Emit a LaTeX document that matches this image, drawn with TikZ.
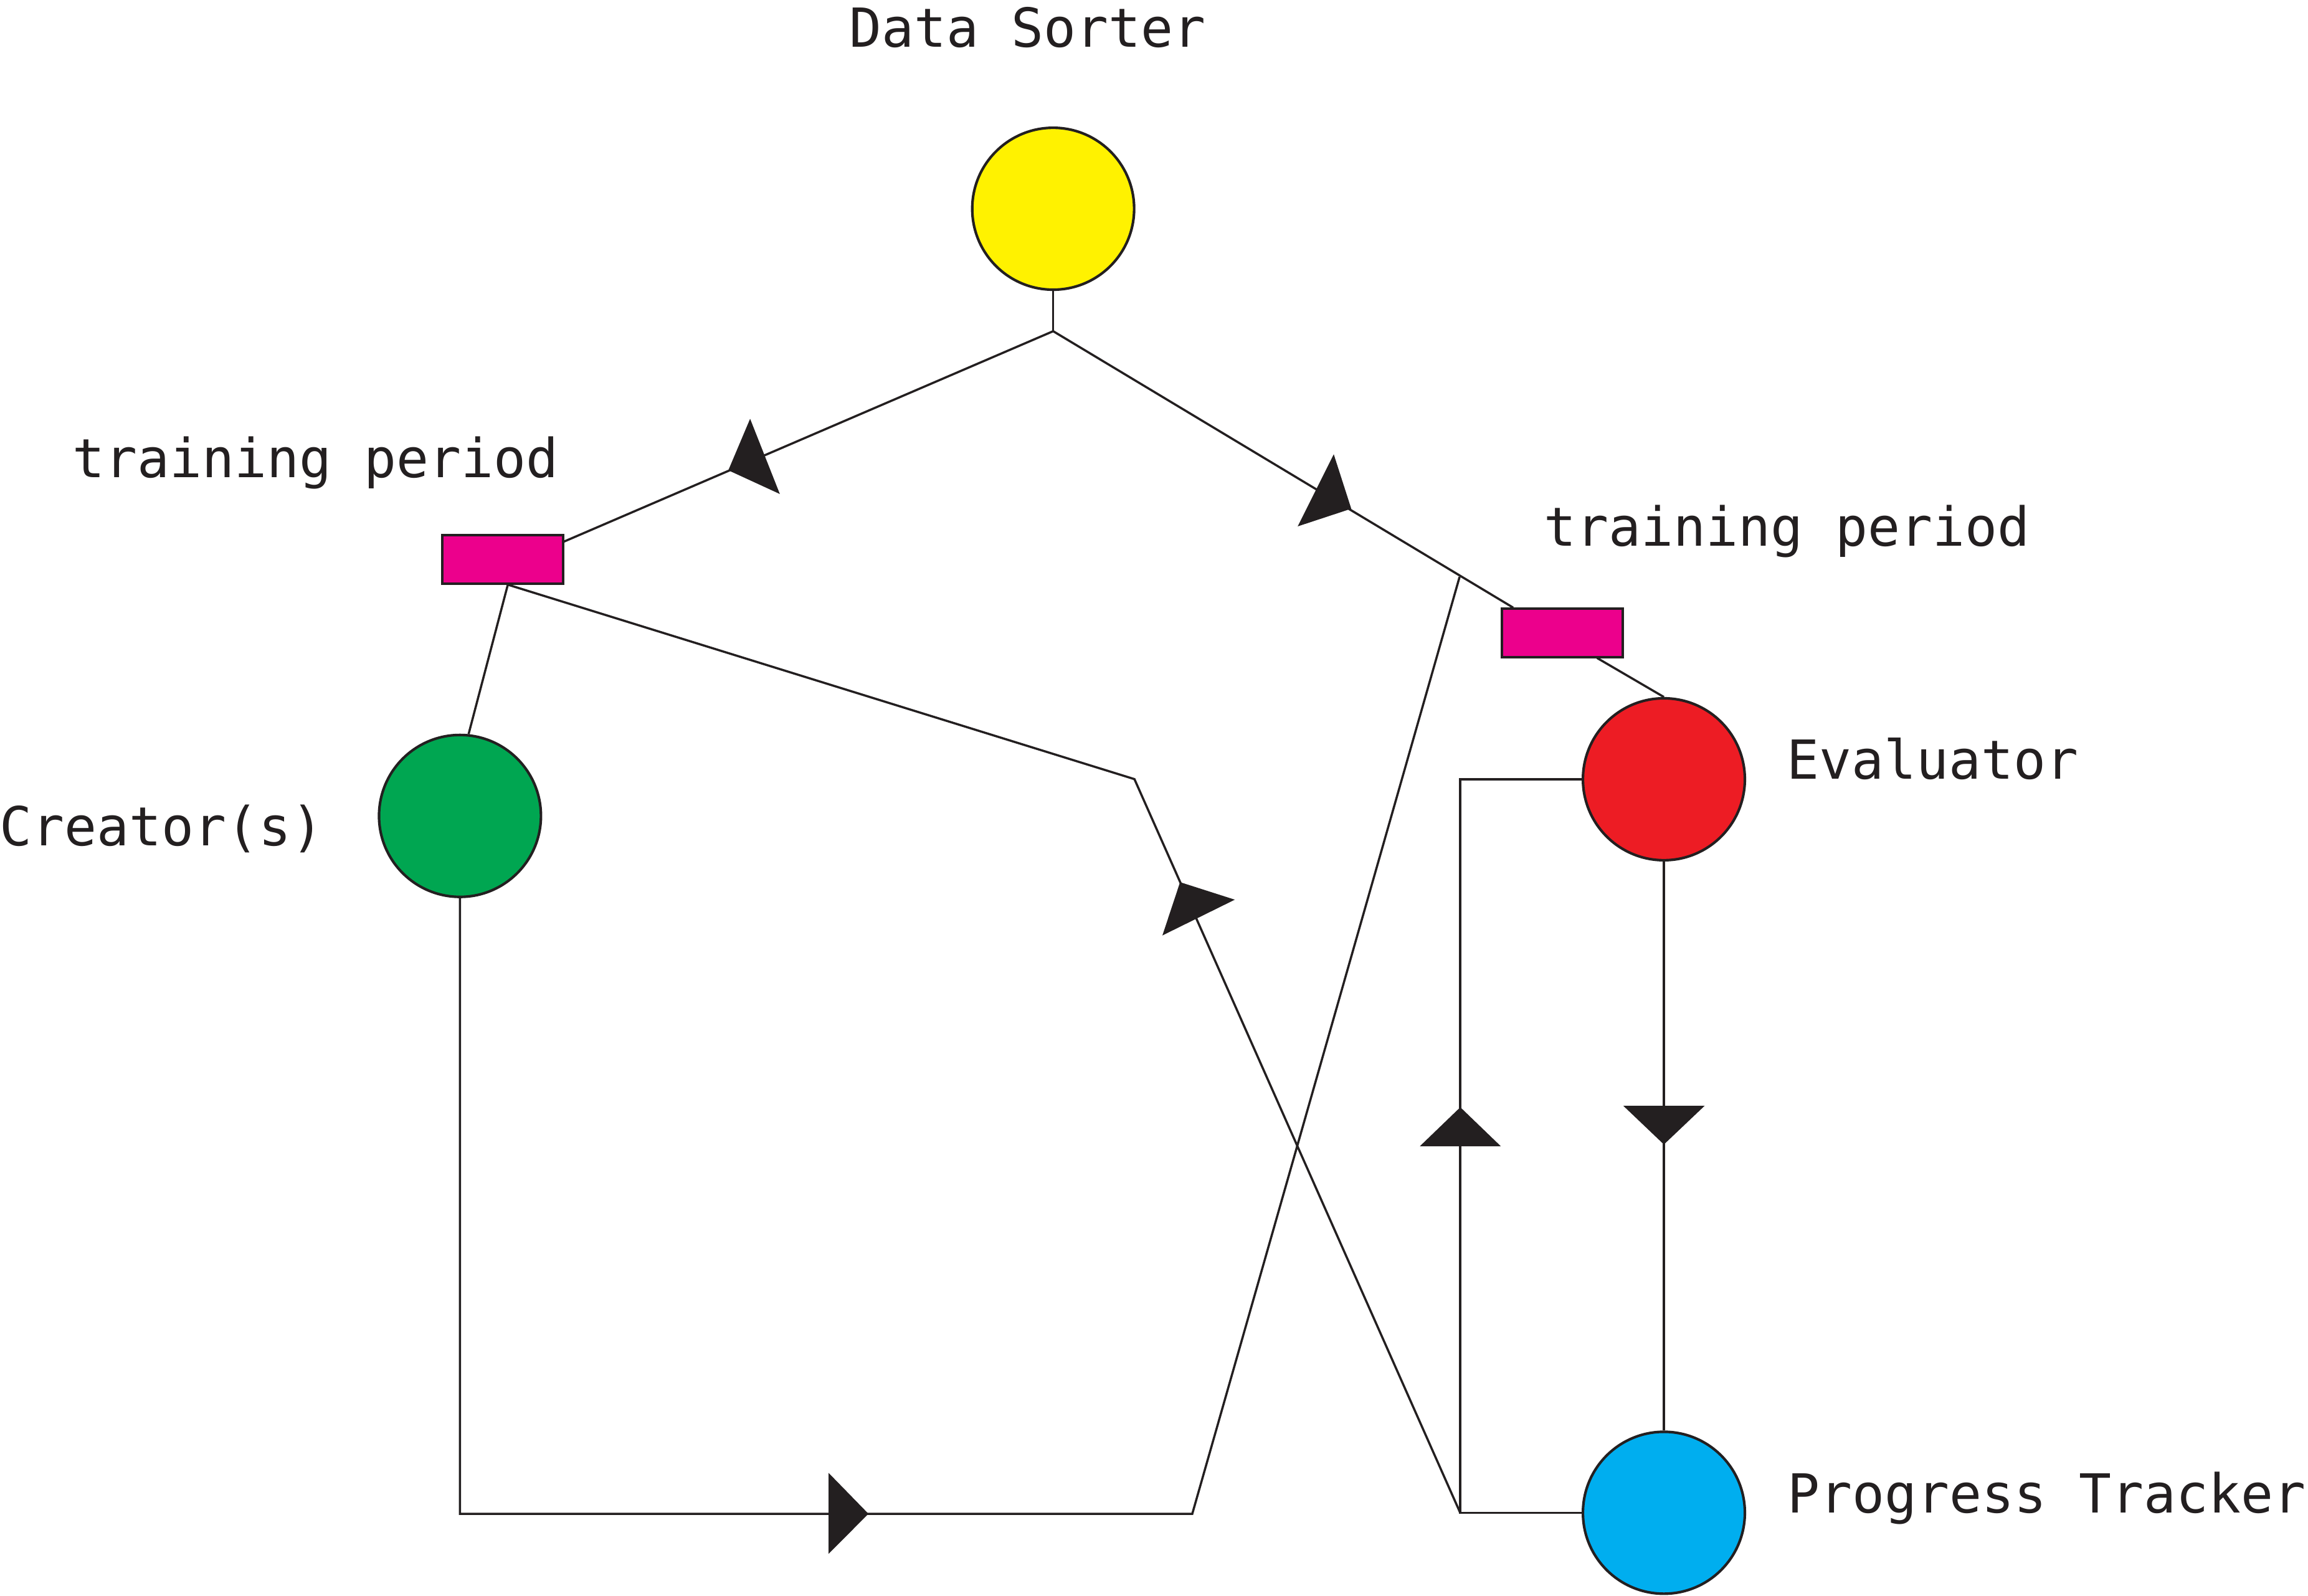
\documentclass[tikz,border=0pt]{standalone}
\usepackage{fontspec}
\setmonofont{DejaVu Sans Mono}
\definecolor{ink}{HTML}{231F20}
\definecolor{sorteryellow}{HTML}{FFF200}
\definecolor{creatorgreen}{HTML}{00A651}
\definecolor{evalred}{HTML}{ED1C24}
\definecolor{trackerblue}{HTML}{00AEEF}
\definecolor{periodpink}{HTML}{EC008C}
\tikzset{
	agent/.style={circle,draw=ink,line width=0.5pt,minimum size=1.1cm,inner sep=0pt},
	period/.style={rectangle,draw=ink,line width=0.5pt,fill=periodpink,minimum width=0.82cm,minimum height=0.33cm,inner sep=0pt},
	lbl/.style={anchor=base,inner sep=0pt,text=ink,font=\ttfamily\fontsize{10.4}{12}\selectfont},
	flow/.style={draw=ink,line width=0.42pt},
	tip/.style={fill=ink}
}
\begin{document}
\begin{tikzpicture}
	\useasboundingbox (0,0) rectangle (15.68,10.84);
	\node[agent,fill=sorteryellow] (sorter) at (7.155,9.422) {};
	\node[agent,fill=creatorgreen] (creator) at (3.125,5.297) {};
	\node[agent,fill=evalred] (evaluator) at (11.304,5.546) {};
	\node[agent,fill=trackerblue] (tracker) at (11.304,0.563) {};
	\node[period] (lperiod) at (3.415,7.04) {};
	\node[period] (rperiod) at (10.615,6.54) {};
	\node[lbl] (sorterlbl) at (6.982,10.522) {Data Sorter};
	\node[lbl] (lperiodlbl) at (2.145,7.596) {training period};
	\node[lbl] (rperiodlbl) at (12.14,7.13) {training period};
	\node[lbl] (creatorlbl) at (1.10,5.094) {Creator(s)};
	\node[lbl] (evaluatorlbl) at (13.13,5.546) {Evaluator};
	\node[lbl] (trackerlbl) at (13.905,0.562) {Progress Tracker};
	\coordinate (split) at (7.155,8.59);
	\coordinate (lin) at (3.83,7.16);
	\coordinate (rin) at (10.28,6.712);
	\coordinate (lout) at (3.45,6.868);
	\coordinate (rout) at (10.85,6.37);
	\coordinate (bend) at (7.707,5.547);
	\coordinate (loopbot) at (9.92,0.563);
	\coordinate (loopend) at (9.916,6.921);
	\draw[flow] (sorter.south) -- (split);
	\draw[flow] (split) -- (lin);
	\draw[flow] (split) -- (rin);
	\draw[flow] (lout) -- (creator.84);
	\draw[flow] (rout) -- (evaluator.north);
	\draw[flow] (lout) -- (bend) -- (loopbot);
	\draw[flow] (evaluator.west) -| (loopbot) -- (tracker.west);
	\draw[flow] (evaluator.south) -- (tracker.north);
	\draw[flow] (creator.south) |- (8.10,0.556) -- (loopend);
	\fill[tip] (5.096,7.995) -- (4.948,7.645) -- (5.298,7.484) -- cycle;
	\fill[tip] (9.061,7.754) -- (8.816,7.264) -- (9.180,7.384) -- cycle;
	\fill[tip] (8.017,4.847) -- (8.389,4.728) -- (7.897,4.485) -- cycle;
	\fill[tip] (5.629,0.834) -- (5.629,0.284) -- (5.900,0.556) -- cycle;
	\fill[tip] (9.921,3.318) -- (9.646,3.053) -- (10.196,3.053) -- cycle;
	\fill[tip] (11.304,3.065) -- (11.028,3.328) -- (11.581,3.328) -- cycle;
\end{tikzpicture}
\end{document}
